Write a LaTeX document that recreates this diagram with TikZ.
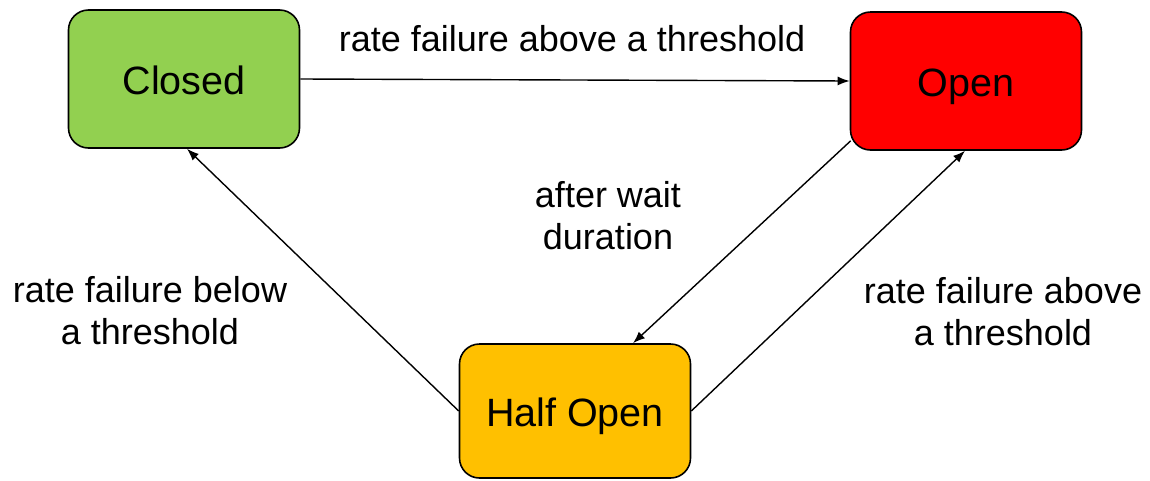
\documentclass[tikz,border=0pt]{standalone}
\usepackage{fontspec}
\setmainfont{Liberation Sans}
\usetikzlibrary{arrows.meta}
\definecolor{cgreen}{HTML}{92D050}
\definecolor{cred}{HTML}{FF0000}
\definecolor{corange}{HTML}{FFC000}
\begin{document}
\begin{tikzpicture}[x=1pt,y=-1pt,
  statebox/.style={draw=black,line width=1.6pt,rounded corners=20pt,
    minimum width=231pt,inner sep=0pt,text height=31pt,text depth=0pt,
    font=\fontsize{39.5}{47}\selectfont},
  lbl/.style={align=center,font=\fontsize{36}{42}\selectfont,inner sep=0pt},
  conn/.style={line width=1.4pt,-{Latex[length=12pt,width=9pt]}}]
\useasboundingbox (0,0) rectangle (1150,480);
\node[statebox,fill=cgreen,minimum height=138pt] (c) at (184,79) {Closed};
\node[statebox,fill=cred,minimum height=138pt] (o) at (966,81) {Open};
\node[statebox,fill=corange,minimum height=134pt] (h) at (575,411) {Half Open};
\node[lbl] (l1) at (572,39) {rate failure above a threshold};
\node[lbl] (l2) at (608,216) {after wait\\duration};
\node[lbl] (l3) at (150,311) {rate failure below\\a threshold};
\node[lbl] (l4) at (1003,312) {rate failure above\\a threshold};
\draw[conn] (c.east) -- (o.west);
\draw[conn] ([shift={(1,-10)}]o.south west) -- ([shift={(58,0)}]h.north);
\draw[conn] (h.east) -- ([shift={(-1,0)}]o.south);
\draw[conn] (h.west) -- ([shift={(3,0)}]c.south);
\end{tikzpicture}
\end{document}
